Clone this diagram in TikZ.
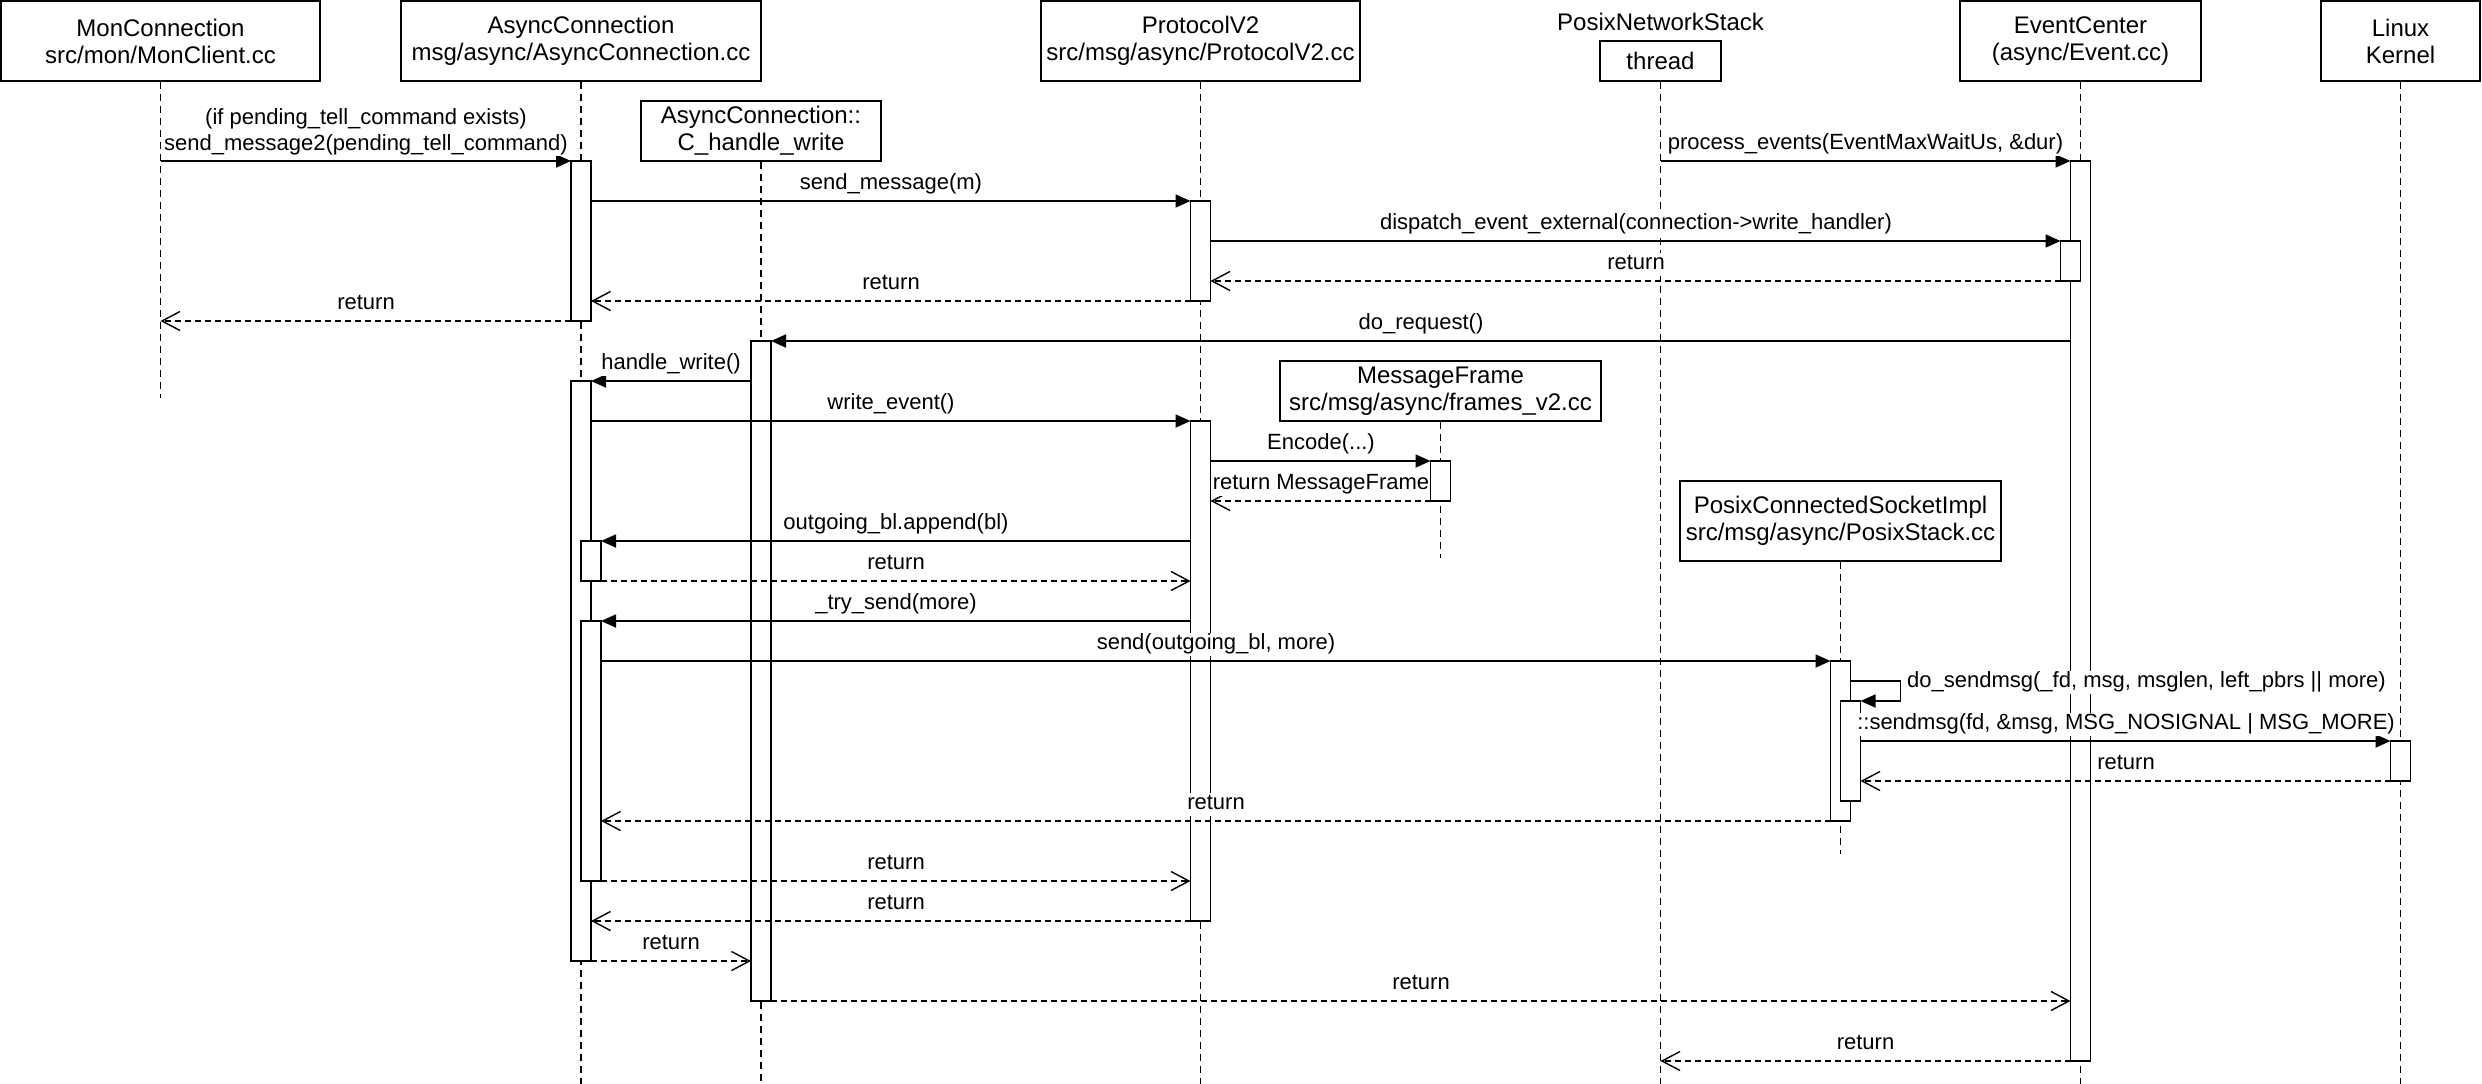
\documentclass[tikz,border=0pt]{standalone}
\usepackage{fontspec}
\setmainfont{Liberation Sans}
\usetikzlibrary{arrows.meta}
\begin{document}
\begin{tikzpicture}[x=1pt,y=-1pt,
  hdr/.style={draw,line width=1.8pt,align=center,inner sep=0pt,font=\fontsize{24}{27}\selectfont},
  life/.style={line width=1.5pt,dash pattern=on 7pt off 5pt},
  bar/.style={draw,fill=white,line width=1.8pt,minimum width=20pt,inner sep=0pt,outer sep=0pt},
  call/.style={line width=1.8pt,-{Triangle[length=15pt,width=13pt]}},
  ret/.style={line width=1.5pt,dash pattern=on 6pt off 4pt,-{Straight Barb[length=18pt,width=19pt,line width=1.4pt]}},
  lblbase/.style={fill=white,inner sep=1pt,anchor=south,font=\fontsize{22}{26}\selectfont},
  lbl/.style={lblbase,text height=16pt,text depth=5pt},
]
\useasboundingbox (0,0) rectangle (2482,1084);

% participants
\node[hdr,minimum width=319pt,minimum height=80pt] (mon) at (160.5,41) {MonConnection\\src/mon/MonClient.cc};
\node[hdr,minimum width=360pt,minimum height=80pt] (async) at (581,41) {AsyncConnection\\msg/async/AsyncConnection.cc};
\node[hdr,minimum width=240pt,minimum height=60pt] (chw) at (761,131) {AsyncConnection::\\C\_handle\_write};
\node[hdr,minimum width=319pt,minimum height=80pt] (proto) at (1200.5,41) {ProtocolV2\\src/msg/async/ProtocolV2.cc};
\node[font=\fontsize{24}{27}\selectfont,anchor=base,inner sep=0pt] (pns) at (1660.5,30) {PosixNetworkStack};
\node[hdr,minimum width=121pt,minimum height=40pt] (thread) at (1660.5,61) {thread};
\node[hdr,minimum width=241pt,minimum height=80pt] (event) at (2080.5,41) {EventCenter\\(async/Event.cc)};
\node[hdr,minimum width=159pt,minimum height=80pt] (linux) at (2400.5,41) {Linux\\Kernel};
\node[hdr,minimum width=321pt,minimum height=60pt] (mf) at (1440.5,391) {MessageFrame\\src/msg/async/frames\_v2.cc};
\node[hdr,minimum width=321pt,minimum height=80pt] (pcsi) at (1840.5,521) {PosixConnectedSocketImpl\\src/msg/async/PosixStack.cc};

% lifelines
\draw[life] (mon.south) -- (mon.south |- 0,398);
\draw[life] (async.south) -- (async.south |- 0,1084);
\draw[life] (chw.south) -- (chw.south |- 0,1084);
\draw[life] (proto.south) -- (proto.south |- 0,1084);
\draw[life] (thread.south) -- (thread.south |- 0,1084);
\draw[life] (event.south) -- (event.south |- 0,1084);
\draw[life] (linux.south) -- (linux.south |- 0,1084);
\draw[life] (mf.south) -- (mf.south |- 0,558);
\draw[life] (pcsi.south) -- (pcsi.south |- 0,854);

% activation bars
\node[bar,minimum height=160pt] (A1) at (581,241) {};
\node[bar,minimum height=580pt] (A2) at (581,671) {};
\node[bar,minimum height=40pt] (A3) at (591,561) {};
\node[bar,minimum height=260pt] (A4) at (591,751) {};
\node[bar,minimum height=660pt] (C1) at (761,671) {};
\node[bar,minimum height=100pt] (P1) at (1200.5,251) {};
\node[bar,minimum height=500pt] (P2) at (1200.5,671) {};
\node[bar,minimum height=40pt] (MF1) at (1440.5,481) {};
\node[bar,minimum height=160pt] (S1) at (1840.5,741) {};
\node[bar,minimum height=100pt] (S2) at (1850.5,751) {};
\node[bar,minimum height=40pt] (K1) at (2400.5,761) {};
\node[bar,minimum height=900pt] (E1) at (2080.5,611) {};
\node[bar,minimum height=40pt] (E2) at (2070.5,261) {};

% messages
\draw[call] (mon.south |- A1.north) -- (A1.north west);
\draw[call] (A1.east |- P1.north) -- (P1.north west);
\draw[call] (P1.east |- E2.north) -- (E2.north west);
\draw[ret] (E2.south west) -- (P1.east |- E2.south);
\draw[ret] (P1.south west) -- (A1.east |- P1.south);
\draw[ret] (A1.south west) -- (mon.south |- A1.south);
\draw[call] (thread.south |- E1.north) -- (E1.north west);
\draw[call] (E1.west |- C1.north) -- (C1.north east);
\draw[call] (C1.west |- A2.north) -- (A2.north east);
\draw[call] (A2.east |- P2.north) -- (P2.north west);
\draw[call] (P2.east |- MF1.north) -- (MF1.north west);
\draw[ret] (MF1.south west) -- (P2.east |- MF1.south);
\draw[call] (P2.west |- A3.north) -- (A3.north east);
\draw[ret] (A3.south east) -- (P2.west |- A3.south);
\draw[call] (P2.west |- A4.north) -- (A4.north east);
\draw[call] (A4.east |- S1.north) -- (S1.north west);
\draw[call] ([yshift=-20pt]S1.north east) -- ++(50,0) |- (S2.north east);
\draw[call] (S2.east |- K1.north) -- (K1.north west);
\draw[ret] (K1.south west) -- (S2.east |- K1.south);
\draw[ret] (S1.south west) -- (A4.east |- S1.south);
\draw[ret] (A4.south east) -- (P2.west |- A4.south);
\draw[ret] (P2.south west) -- (A2.east |- P2.south);
\draw[ret] (A2.south east) -- (C1.west |- A2.south);
\draw[ret] (C1.south east) -- (E1.west |- C1.south);
\draw[ret] (E1.south west) -- (thread.south |- E1.south);

% labels
\node[lblbase,align=center] (l1) at (366,156) {(if pending\_tell\_command exists)\\send\_message2(pending\_tell\_command)};
\node[lbl] (l2) at (891,196) {send\_message(m)};
\node[lbl] (l3) at (1636,236) {dispatch\_event\_external(connection->write\_handler)};
\node[lbl] (l4) at (1636,276) {return};
\node[lbl] (l5) at (891,296) {return};
\node[lbl] (l6) at (366,316) {return};
\node[lbl] (l7) at (1865.5,156) {process\_events(EventMaxWaitUs, \&dur)};
\node[lbl] (l8) at (1421,336) {do\_request()};
\node[lbl] (l9) at (671,376) {handle\_write()};
\node[lbl] (l10) at (891,416) {write\_event()};
\node[lbl] (l11) at (1321,456) {Encode(...)};
\node[lbl] (l12) at (1321,496) {return MessageFrame};
\node[lbl] (l13) at (896,536) {outgoing\_bl.append(bl)};
\node[lbl] (l14) at (896,576) {return};
\node[lbl] (l15) at (896,616) {\_try\_send(more)};
\node[lbl] (l16) at (1216,656) {send(outgoing\_bl, more)};
\node[lbl,anchor=south west] (l17) at (1906,694) {do\_sendmsg(\_fd, msg, msglen, left\_pbrs \textbar\textbar{} more)};
\node[lbl] (l18) at (2126,736) {::sendmsg(fd, \&msg, MSG\_NOSIGNAL \textbar{} MSG\_MORE)};
\node[lbl] (l19) at (2126,776) {return};
\node[lbl] (l20) at (1216,816) {return};
\node[lbl] (l21) at (896,876) {return};
\node[lbl] (l22) at (896,916) {return};
\node[lbl] (l23) at (671,956) {return};
\node[lbl] (l24) at (1421,996) {return};
\node[lbl] (l25) at (1865.5,1056) {return};
\end{tikzpicture}
\end{document}
